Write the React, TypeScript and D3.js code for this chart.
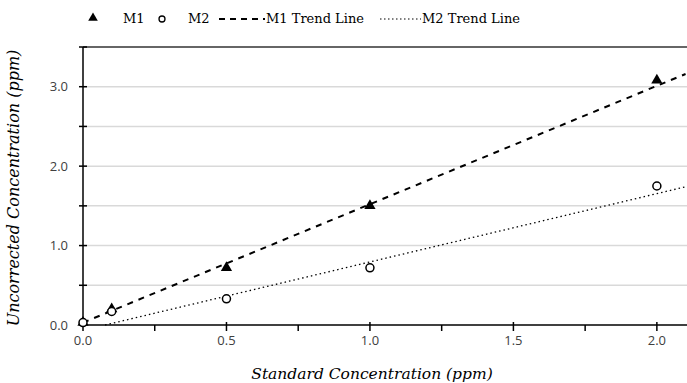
import React from "react";
import * as d3 from "d3";

// measured concentrations (ppm)
const standardConc = [0, 0.1, 0.5, 1.0, 2.0];
const m1Values = [0.03, 0.2, 0.72, 1.5, 3.08];
const m2Values = [0.03, 0.17, 0.33, 0.72, 1.75];

// trend line end points
const m1TrendX = [0, 2.1];
const m1TrendY = [0.03, 3.16];
const m2TrendX = [0.077, 2.1];
const m2TrendY = [0, 1.74];

const xTicks = [0, 0.5, 1.0, 1.5, 2.0];
const xMinorTicks = [0.25, 0.75, 1.25, 1.75];
const yTicks = [0, 1.0, 2.0, 3.0];
const yGrid = [0.5, 1.0, 1.5, 2.0, 2.5, 3.0];
const yMinorTicks = [0.5, 1.5, 2.5, 3.5];

const W = 687;
const H = 383;
const margin = { top: 47, right: 0, bottom: 58, left: 83 };

export default function App() {
  const x = d3.scaleLinear().domain([0, 2.105]).range([margin.left, W - margin.right]);
  const y = d3.scaleLinear().domain([0, 3.5]).range([H - margin.bottom, margin.top]);

  const line = d3
    .line<[number, number]>()
    .x((d) => x(d[0]))
    .y((d) => y(d[1]));

  const m1Trend = m1TrendX.map((v, i) => [v, m1TrendY[i]] as [number, number]);
  const m2Trend = m2TrendX.map((v, i) => [v, m2TrendY[i]] as [number, number]);
  const tri = d3.symbol().type(d3.symbolTriangle).size(55)();
  const triSmall = d3.symbol().type(d3.symbolTriangle).size(40)();

  const serif = "'DejaVu Serif', 'Liberation Serif', serif";
  const sans = "'Open Sans', 'Liberation Sans', sans-serif";
  const x0 = x(0);
  const yb = y(0);

  return (
    <svg
      width={W}
      height={H}
      style={{ position: "absolute", left: 0, top: 0, background: "#fff" }}
    >
      {/* grid */}
      {yGrid.map((t) => (
        <line key={"g" + t} x1={x0} x2={W} y1={y(t)} y2={y(t)} stroke="#d9d9d9" strokeWidth={1.5} />
      ))}
      {/* top border */}
      <line x1={x0} x2={W} y1={y(3.5)} y2={y(3.5)} stroke="#333" strokeWidth={1.5} />

      {/* trend lines */}
      <path d={line(m1Trend) || ""} fill="none" stroke="#000" strokeWidth={2} strokeDasharray="6,6" />
      <path d={line(m2Trend) || ""} fill="none" stroke="#000" strokeWidth={1.3} strokeDasharray="1.5,3" />

      {/* axes */}
      <line x1={x0} x2={x0} y1={y(3.5)} y2={yb} stroke="#000" strokeWidth={1.5} />
      <line x1={x0} x2={W} y1={yb} y2={yb} stroke="#000" strokeWidth={1.5} />
      {[...yTicks, ...yMinorTicks].map((t) => (
        <line key={"yt" + t} x1={x0 - 4} x2={x0 + 4} y1={y(t)} y2={y(t)} stroke="#000" strokeWidth={1.5} />
      ))}
      {xTicks.map((t) => (
        <line key={"xt" + t} x1={x(t)} x2={x(t)} y1={yb - 3} y2={yb + 6} stroke="#000" strokeWidth={1.5} />
      ))}
      {xMinorTicks.map((t) => (
        <line key={"xm" + t} x1={x(t)} x2={x(t)} y1={yb} y2={yb + 6} stroke="#000" strokeWidth={1.5} />
      ))}
      {yTicks.map((t) => (
        <text key={"yl" + t} x={x0 - 15} y={y(t)} dy="0.35em" textAnchor="end" fontFamily={sans} fontSize={13} fill="#404040">
          {d3.format(".1f")(t)}
        </text>
      ))}
      {xTicks.map((t) => (
        <text key={"xl" + t} x={x(t)} y={yb + 20} textAnchor="middle" fontFamily={sans} fontSize={13} fill="#404040">
          {d3.format(".1f")(t)}
        </text>
      ))}

      {/* points */}
      {standardConc.map((c, i) => (
        <path key={"m1" + i} d={tri || ""} transform={`translate(${x(c)},${y(m1Values[i])})`} fill="#000" />
      ))}
      {standardConc.map((c, i) => (
        <circle key={"m2" + i} cx={x(c)} cy={y(m2Values[i])} r={4} fill="#fff" stroke="#000" strokeWidth={1.5} />
      ))}

      {/* axis titles */}
      <text x={372} y={379} textAnchor="middle" fontFamily={serif} fontStyle="italic" fontSize={15.5} fill="#000">
        Standard Concentration (ppm)
      </text>
      <text
        transform={`translate(19,${188}) rotate(-90)`}
        textAnchor="middle"
        fontFamily={serif}
        fontStyle="italic"
        fontSize={16}
        fill="#000"
      >
        Uncorrected Concentration (ppm)
      </text>

      {/* legend */}
      <g fontFamily={serif} fontSize={13} fill="#000">
        <path d={triSmall || ""} transform="translate(93,18)" fill="#000" />
        <text x={123} y={23}>M1</text>
        <circle cx={162} cy={19} r={3} fill="#fff" stroke="#000" strokeWidth={1.3} />
        <text x={188} y={23}>M2</text>
        <line x1={219} x2={265} y1={19} y2={19} stroke="#000" strokeWidth={2} strokeDasharray="6,5" />
        <text x={266} y={23}>M1 Trend Line</text>
        <line x1={380} x2={421} y1={19} y2={19} stroke="#000" strokeWidth={1.2} strokeDasharray="1.5,2.5" />
        <text x={422} y={23}>M2 Trend Line</text>
      </g>
    </svg>
  );
}
